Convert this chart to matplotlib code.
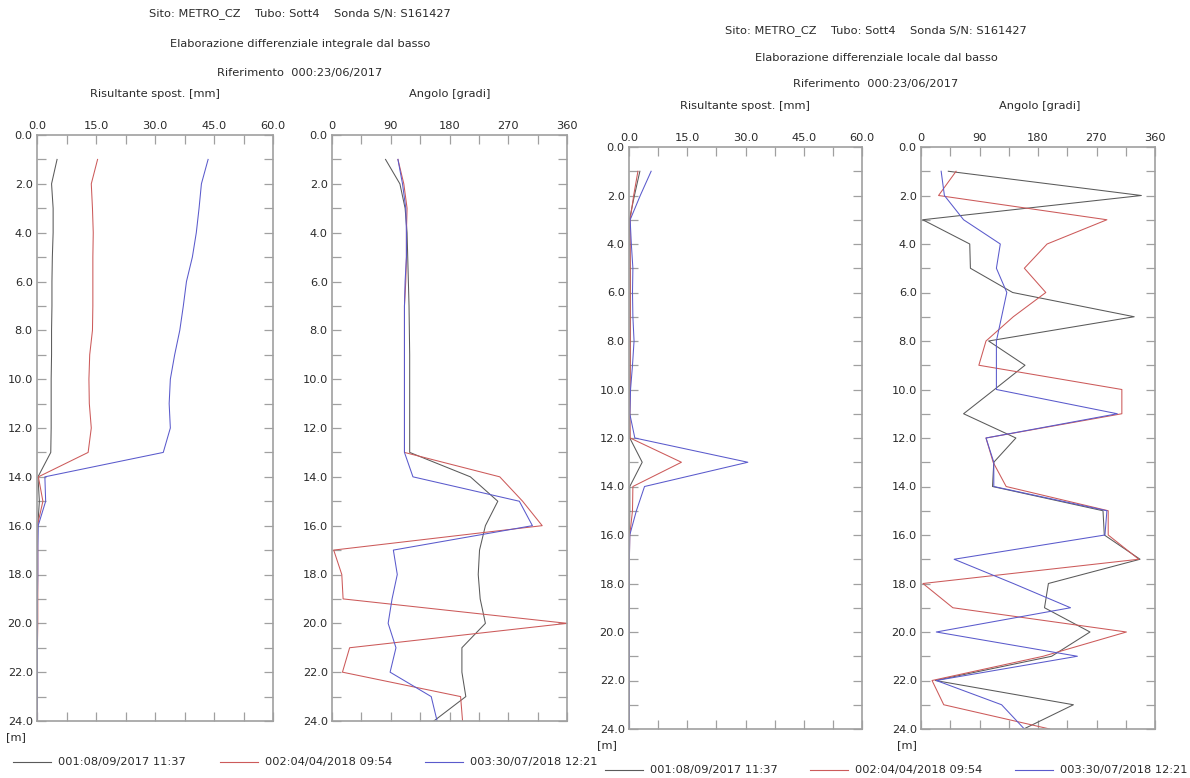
import matplotlib
matplotlib.use("Agg")
import matplotlib.pyplot as plt
from matplotlib.ticker import MultipleLocator, FuncFormatter
import numpy as np

# ---------------- data ----------------
depth = list(range(1, 25))

series_labels = ["001:08/09/2017 11:37", "002:04/04/2018 09:54", "003:30/07/2018 12:21"]
series_colors = ["#5a5a5a", "#cc5a5a", "#5a5acc"]

# Integral displacement [mm]
int_disp_1 = [5.1, 3.7, 4.1, 4.1, 3.9, 3.8, 3.8, 3.7, 3.7, 3.6, 3.6, 3.6, 3.5, 0.25,
              0.6, 0.2, 0.1, 0.1, 0.1, 0.1, 0.05, 0.05, 0.05, 0.0]
int_disp_2 = [15.4, 13.8, 14.1, 14.3, 14.2, 14.2, 14.2, 14.1, 13.4, 13.2, 13.3, 13.8, 13.0, 0.35,
              1.5, 0.1, 0.2, 0.2, 0.2, 0.2, 0.1, 0.1, 0.1, 0.0]
int_disp_3 = [43.5, 41.8, 41.2, 40.5, 39.5, 38.0, 37.2, 36.3, 35.0, 33.9, 33.6, 33.9, 32.1, 2.0,
              2.2, 0.3, 0.2, 0.2, 0.1, 0.1, 0.1, 0.1, 0.1, 0.0]

# Integral angle [deg]
int_ang_1 = [82, 104, 112, 115, 116, 117, 118, 118.5, 119, 119, 119, 119, 119, 212,
             254, 235, 226, 224, 227, 235, 199, 199, 205, 156]
int_ang_2 = [101, 110, 115, 114, 114, 113, 111, 111, 111, 111, 111, 111, 111, 257,
             292, 322, 2.6, 15, 17, 360, 27, 16, 197, 200]
int_ang_3 = [101, 108, 113, 114, 114, 112, 111, 111, 111, 111, 111, 111, 111, 124,
             287, 307, 94, 100, 92, 86, 98, 89, 152, 161]

# Local displacement [mm]
loc_disp_1 = [2.8, 1.4, 0.1, 0.2, 0.3, 0.3, 0.3, 0.3, 0.3, 0.2, 0.2, 0.2, 3.4, 0.2,
              0.2, 0.1, 0.1, 0.1, 0.1, 0.1, 0.1, 0.1, 0.1, 0.1]
loc_disp_2 = [2.3, 1.2, 0.3, 0.3, 0.3, 0.3, 0.3, 0.3, 0.3, 0.3, 0.2, 0.3, 13.5, 1.0,
              0.9, 0.2, 0.1, 0.1, 0.1, 0.1, 0.1, 0.1, 0.1, 0.1]
loc_disp_3 = [5.7, 2.9, 0.3, 0.6, 1.0, 0.9, 1.0, 1.3, 0.9, 0.4, 0.2, 1.5, 30.6, 4.0,
              1.9, 0.2, 0.1, 0.1, 0.1, 0.1, 0.1, 0.1, 0.1, 0.1]

# Local angle [deg]
loc_ang_1 = [42, 339, 2.6, 75, 76, 141, 328, 104, 160, 113, 65.5, 146, 112, 110,
             280, 282, 337, 196, 190, 260, 201, 22, 234.5, 158]
loc_ang_2 = [54, 27, 286, 194, 159, 192, 142, 100, 89, 309, 309, 100, 111, 131,
             288, 288, 335, 3, 49, 316, 188, 17, 35, 198]
loc_ang_3 = [31, 36, 65.5, 122, 116, 132, 124, 116, 116, 116, 302, 100, 112, 112,
             286, 283, 51, 142, 230, 23.5, 240.6, 23.5, 124, 159]

title_site = "Sito: METRO_CZ    Tubo: Sott4    Sonda S/N: S161427"
title_left = "Elaborazione differenziale integrale dal basso"
title_right = "Elaborazione differenziale locale dal basso"
title_ref = "Riferimento  000:23/06/2017"
disp_label = "Risultante spost. [mm]"
ang_label = "Angolo [gradi]"

# ---------------- figure ----------------
W, H = 1190, 778
DPI = 100
fig = plt.figure(figsize=(W / DPI, H / DPI), dpi=DPI)
fig.patch.set_facecolor("white")
plt.rcParams["font.family"] = ["DejaVu Sans"]
FS = 8.2
TXT = "#2a2a2a"
SPINE = "#a0a0a0"


def px_rect(x0, x1, y0, y1):
    return [x0 / W, 1 - y1 / H, (x1 - x0) / W, (y1 - y0) / H]


def ftext(x, y, s, ha="center", va="center", size=FS):
    fig.text(x / W, 1 - y / H, s, ha=ha, va=va, fontsize=size, color=TXT)


def setup_axis(ax, kind):
    ax.set_ylim(24, 0)
    ax.yaxis.set_major_locator(MultipleLocator(2))
    ax.yaxis.set_minor_locator(MultipleLocator(1))
    ax.yaxis.set_major_formatter(FuncFormatter(lambda v, p: f"{v:.1f}"))
    if kind == "disp":
        ax.set_xlim(0, 60)
        ax.xaxis.set_major_locator(MultipleLocator(15))
        ax.xaxis.set_minor_locator(MultipleLocator(7.5))
        ax.xaxis.set_major_formatter(FuncFormatter(lambda v, p: f"{v:.1f}"))
    else:
        ax.set_xlim(0, 360)
        ax.xaxis.set_major_locator(MultipleLocator(90))
        ax.xaxis.set_minor_locator(MultipleLocator(45))
        ax.xaxis.set_major_formatter(FuncFormatter(lambda v, p: f"{v:.0f}"))
    ax.xaxis.tick_top()
    ax.tick_params(which="both", direction="in", top=True, bottom=True,
                   left=True, right=True, length=6.5, width=0.9, color=SPINE,
                   labelsize=FS, labelcolor=TXT)
    ax.tick_params(axis="x", which="both", labeltop=True, labelbottom=False, pad=3)
    ax.tick_params(axis="y", which="both", pad=3)
    for s in ax.spines.values():
        s.set_color(SPINE)
        s.set_linewidth(1.2)
    ax.set_facecolor("white")


def draw(ax, data):
    for vals, c in zip(data, series_colors):
        ax.plot(vals, depth, color=c, lw=0.75)


# Left chart
axL1 = fig.add_axes(px_rect(37, 273, 135, 721))
axL2 = fig.add_axes(px_rect(332, 567, 135, 721))
# Right chart
axR1 = fig.add_axes(px_rect(629, 862, 147, 729))
axR2 = fig.add_axes(px_rect(921, 1155, 147, 729))

for ax, kind, data in [
    (axL1, "disp", [int_disp_1, int_disp_2, int_disp_3]),
    (axL2, "ang", [int_ang_1, int_ang_2, int_ang_3]),
    (axR1, "disp", [loc_disp_1, loc_disp_2, loc_disp_3]),
    (axR2, "ang", [loc_ang_1, loc_ang_2, loc_ang_3]),
]:
    setup_axis(ax, kind)
    draw(ax, data)

# Titles - left chart
ftext(300, 14, title_site)
ftext(300, 44, title_left)
ftext(300, 73, title_ref)
ftext(155, 94, disp_label)
ftext(450, 94, ang_label)
# Titles - right chart
ftext(876, 31, title_site)
ftext(876, 58, title_right)
ftext(876, 84, title_ref)
ftext(745, 106, disp_label)
ftext(1040, 106, ang_label)

# [m] labels
ftext(6, 737, "[m]", ha="left")
ftext(897, 745, "[m]", ha="left")
ftext(597, 745, "[m]", ha="left")

# Legends
def legend_row(y, starts):
    for (x0, c, lab) in zip(starts, series_colors, series_labels):
        fig.add_artist(plt.Line2D([x0 / W, (x0 + 38) / W], [1 - y / H, 1 - y / H],
                                  color=c, lw=0.8, transform=fig.transFigure))
        ftext(x0 + 45, y, lab, ha="left")

legend_row(762, [13, 220, 425])
legend_row(770, [605, 810, 1015])

fig.savefig("out.png", dpi=DPI, facecolor="white")
